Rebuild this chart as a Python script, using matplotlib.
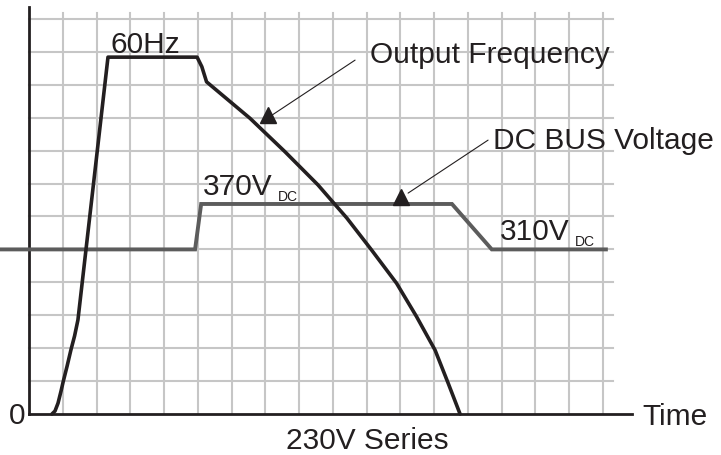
import matplotlib.pyplot as plt

# one unit = one grid cell
grid_cols = 17
grid_rows = 12

# output frequency (grid units)
freq_t = [0.68, 0.77, 0.86, 0.95, 1.01, 1.13, 1.24, 1.35, 1.45, 2.34, 4.98,
          5.12, 5.26, 6.55, 7.58, 8.56, 9.06, 9.41, 10.15, 10.89, 11.48,
          12.03, 12.42, 12.77]
freq_v = [0.0, 0.09, 0.33, 0.70, 0.97, 1.46, 1.94, 2.37, 2.86, 10.84, 10.84,
          10.55, 10.09, 8.98, 7.97, 6.96, 6.37, 5.96, 4.98, 3.97, 2.96,
          1.94, 0.93, 0.0]

# DC bus voltage (grid units)
bus_t = [-0.86, 4.92, 5.10, 12.53, 13.71, 17.09]
bus_v = [5.0, 5.0, 6.38, 6.38, 5.0, 5.0]

plt.rcParams['font.family'] = ['Liberation Sans', 'DejaVu Sans']

fig = plt.figure(figsize=(7.21, 4.55), dpi=100)
ax = fig.add_axes([0, 0, 1, 1])
ax.set_xlim(-0.859, 20.50)
ax.set_ylim(-1.245, 12.576)
ax.axis("off")

grid_c = "#c6c6c6"
for i in range(1, grid_cols + 1):
    ax.plot([i, i], [0, 12.18], color=grid_c, lw=1.5, zorder=1)
for j in range(1, grid_rows + 1):
    ax.plot([0, 17.3], [j, j], color=grid_c, lw=1.5, zorder=1)

# axes
ax.plot([0, 0], [0, 12.36], color="#231f20", lw=2.0, zorder=3)
ax.plot([0, 17.86], [0, 0], color="#231f20", lw=2.0, zorder=3)

ax.plot(bus_t, bus_v, color="#5c5c5c", lw=2.8, zorder=4, solid_joinstyle="miter")
ax.plot(freq_t, freq_v, color="#231f20", lw=2.6, zorder=5,
        solid_joinstyle="round", solid_capstyle="round")

# pointer markers and leader lines
ax.plot([7.08], [9.08], marker="^", ms=11, color="#231f20", zorder=6)
ax.annotate("", xy=(7.20, 9.08), xytext=(9.66, 10.75),
            arrowprops=dict(arrowstyle="-", lw=0.8, color="#231f20", shrinkA=0, shrinkB=0))
ax.plot([11.02], [6.59], marker="^", ms=11, color="#231f20", zorder=6)
ax.annotate("", xy=(11.23, 6.71), xytext=(13.60, 8.32),
            arrowprops=dict(arrowstyle="-", lw=0.8, color="#231f20", shrinkA=0, shrinkB=0))

tc = "#231f20"
fs = 21.5
ax.text(10.10, 10.66, "Output Frequency", fontsize=fs, color=tc, va="baseline")
ax.text(13.74, 8.05, "DC BUS Voltage", fontsize=fs, color=tc, va="baseline")
ax.text(2.40, 10.97, "60Hz", fontsize=fs, color=tc, va="baseline")
ax.text(5.15, 6.65, "370V", fontsize=fs, color=tc, va="baseline")
ax.text(7.38, 6.47, "DC", fontsize=10, color=tc, va="baseline")
ax.text(13.95, 5.29, "310V", fontsize=fs, color=tc, va="baseline")
ax.text(16.17, 5.10, "DC", fontsize=10, color=tc, va="baseline")
ax.text(-0.12, -0.30, "0", fontsize=fs, color=tc, ha="right", va="baseline")
ax.text(18.16, -0.33, "Time", fontsize=fs, color=tc, va="baseline")
ax.text(10.03, -1.06, "230V Series", fontsize=fs, color=tc, ha="center", va="baseline")

fig.savefig("out.png", dpi=100)
